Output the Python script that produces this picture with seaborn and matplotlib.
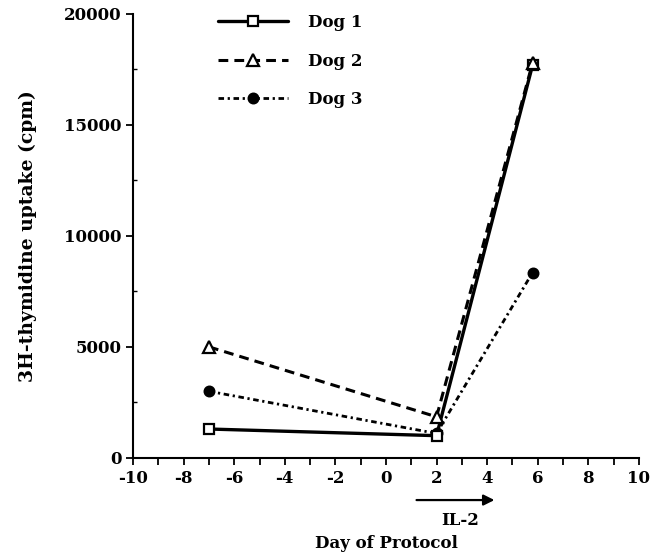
import matplotlib
matplotlib.use("Agg")
import matplotlib.pyplot as plt
import seaborn as sns
import pandas as pd
from matplotlib.ticker import MultipleLocator

# Data
days = [-7, 2, 5.8]
dog1 = [1300, 1000, 17700]
dog2 = [5000, 1850, 17800]
dog3 = [3000, 1100, 8350]
series_names = ["Dog 1", "Dog 2", "Dog 3"]
x_ticks = [-10, -8, -6, -4, -2, 0, 2, 4, 6, 8, 10]
y_ticks = [0, 5000, 10000, 15000, 20000]

sns.set_theme(style="ticks")
plt.rcParams["font.family"] = ["DejaVu Serif"]
plt.rcParams["font.weight"] = "bold"
plt.rcParams["axes.unicode_minus"] = False
plt.rcParams["text.color"] = "black"
plt.rcParams["axes.labelcolor"] = "black"
plt.rcParams["xtick.color"] = "black"
plt.rcParams["ytick.color"] = "black"

df = pd.DataFrame({
    "day": days * 3,
    "cpm": dog1 + dog2 + dog3,
    "dog": [n for n in series_names for _ in days],
})

fig = plt.figure(figsize=(6.62, 5.55), dpi=100)
ax = fig.add_axes([0.201, 0.175, 0.764, 0.80])

styles = {
    "Dog 1": dict(marker="s", linestyle="-", linewidth=2.4, markersize=7,
                  markerfacecolor="white", zorder=3),
    "Dog 2": dict(marker="^", linestyle=(0, (3.2, 2.0)), linewidth=2.2, markersize=8.5,
                  markerfacecolor="white", zorder=4),
    "Dog 3": dict(marker="o", linestyle=(0, (2.0, 1.3, 0.8, 1.3)), linewidth=2.0, markersize=7,
                  markerfacecolor="black", zorder=2),
}

for name in series_names:
    sub = df[df["dog"] == name]
    st = styles[name]
    sns.lineplot(data=sub, x="day", y="cpm", ax=ax, color="black", label=name,
                 marker=st["marker"], linestyle=st["linestyle"], linewidth=st["linewidth"],
                 markersize=st["markersize"], markerfacecolor=st["markerfacecolor"],
                 markeredgecolor="black", markeredgewidth=1.6, zorder=st["zorder"],
                 errorbar=None, sort=False)

ax.set_xlim(-10, 10)
ax.set_ylim(0, 20000)
ax.set_xticks(x_ticks)
ax.set_yticks(y_ticks)
ax.xaxis.set_minor_locator(MultipleLocator(1))
ax.yaxis.set_minor_locator(MultipleLocator(2500))
ax.tick_params(axis="both", which="major", labelsize=12, length=5, width=1.3,
               colors="black", direction="out")
ax.tick_params(axis="x", which="minor", length=5, width=1.3, direction="out")
ax.tick_params(axis="y", which="minor", length=3, width=1.0, direction="in")
for lab in ax.get_xticklabels() + ax.get_yticklabels():
    lab.set_fontweight("bold")

sns.despine(ax=ax)
for sp in ["left", "bottom"]:
    ax.spines[sp].set_linewidth(1.5)
    ax.spines[sp].set_color("black")

ax.set_xlabel("Day of Protocol", fontsize=12, fontweight="bold", labelpad=35, color="black")
ax.set_ylabel("3H-thymidine uptake (cpm)", fontsize=13.5, fontweight="bold", labelpad=19,
              color="black")

ax.annotate("", xy=(4.4, -0.095), xytext=(1.1, -0.095),
            xycoords=("data", "axes fraction"), textcoords=("data", "axes fraction"),
            arrowprops=dict(arrowstyle="-|>", color="black", lw=1.6, mutation_scale=16),
            annotation_clip=False)
ax.text(2.95, -0.14, "IL-2", transform=ax.get_xaxis_transform(), ha="center", va="center",
        fontsize=12, fontweight="bold", color="black")

leg = ax.legend(loc="upper left", bbox_to_anchor=(0.168, 1.0), frameon=False,
                handlelength=4.2, handletextpad=1.2, labelspacing=1.3,
                borderpad=0, borderaxespad=0, fontsize=12)
for t in leg.get_texts():
    t.set_fontweight("bold")
    t.set_color("black")

fig.savefig("out.png", dpi=100)
